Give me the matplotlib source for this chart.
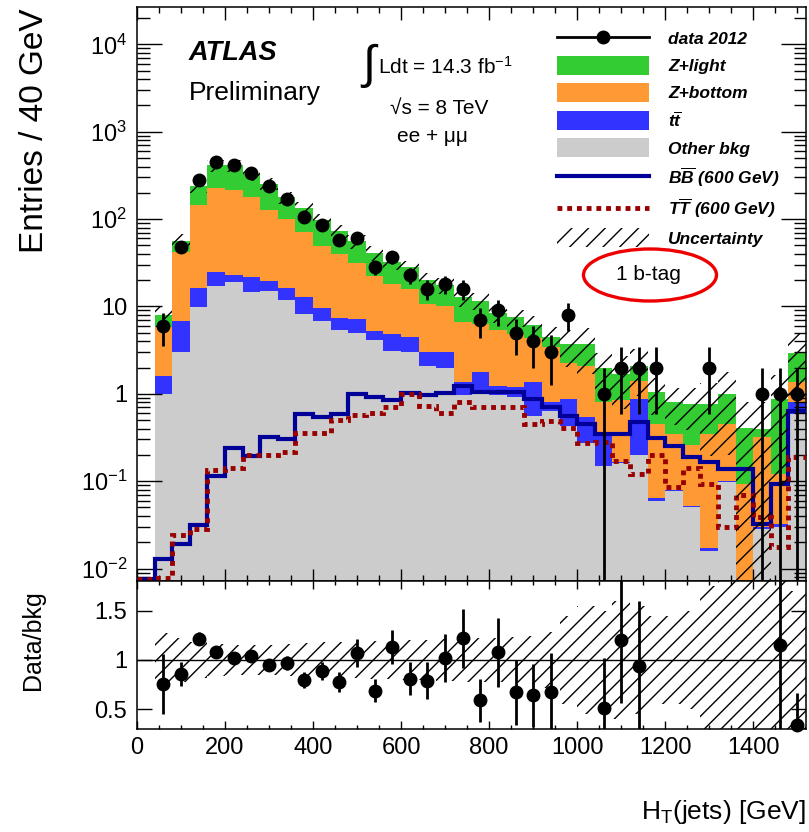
import numpy as np
import matplotlib
matplotlib.use('Agg')
import matplotlib.pyplot as plt
from matplotlib.patches import Patch, Ellipse
from matplotlib.lines import Line2D
from matplotlib.ticker import LogLocator, MultipleLocator, NullFormatter, FuncFormatter

plt.rcParams['font.family'] = ['Liberation Sans', 'DejaVu Sans']
plt.rcParams['mathtext.fontset'] = 'custom'
plt.rcParams['mathtext.rm'] = 'Liberation Sans'
plt.rcParams['mathtext.it'] = 'Liberation Sans:italic'
plt.rcParams['mathtext.bf'] = 'Liberation Sans:bold'
plt.rcParams['mathtext.bfit'] = 'Liberation Sans:italic:bold'
plt.rcParams['hatch.linewidth'] = 1.0

# 40 GeV bins; backgrounds and data start at 40 GeV, signals at 0
bkg_edges = np.arange(40, 1521, 40)
sig_edges = np.arange(0, 1521, 40)
centers = 0.5 * (bkg_edges[:-1] + bkg_edges[1:])

data = np.array([6, 48, 283, 447, 420, 338, 242, 172, 107, 86, 57, 60, 28, 37, 23, 16, 18, 16,
                 7, 9, 5, 4, 3, 8, 0, 1, 2, 2, 2, 0, 0, 2, 0, 0, 1, 1, 1], dtype=float)

other_bkg = np.array([1.0, 3.0, 9.8, 17.3, 18.9, 14.8, 15.2, 12.0, 8.1, 6.8, 5.4, 5.0, 4.1, 3.1,
                      3.0, 2.1, 2.0, 0.96, 1.04, 0.98, 0.93, 0.56, 0.64, 0.43, 0.27, 0.15, 0.16,
                      0.2, 0.06, 0.078, 0.05, 0.016, 0.097, 0.005, 0.028, 0.03, 0.59])
ttbar = np.array([0.58, 3.9, 6.4, 7.3, 4.3, 6.8, 4.2, 4.3, 4.9, 2.7, 1.9, 2.1, 1.2, 1.75, 1.45,
                  0.89, 0.99, 0.40, 0.73, 0.26, 0.26, 0.80, 0.16, 0.45, 0.27, 0.21, 0.005, 0.68,
                  0.005, 0.002, 0.002, 0.001, 0.003, 0.0, 0.002, 0.002, 0.21])
z_bottom = np.array([4.2, 34.8, 127, 200, 192, 156, 108, 84, 58, 40, 33, 24, 17.3, 13.3, 11.4,
                     7.7, 7.2, 5.2, 4.5, 4.1, 3.7, 3.0, 2.6, 1.4, 1.56, 0.44, 0.69, 0.54, 0.39,
                     0.27, 0.21, 0.33, 0.35, 0.089, 0.29, 0.088, 0.55])
z_light = np.array([2.1, 14.3, 97, 189, 197, 147, 128, 77, 63, 47, 33, 25, 18.4, 13.9, 12.1,
                    9.3, 7.5, 6.2, 5.4, 3.0, 2.6, 1.85, 1.1, 1.4, 1.6, 1.16, 0.82, 0.68, 0.59,
                    0.45, 0.51, 0.42, 0.55, 0.31, 0.08, 0.75, 1.55])
rel_unc = np.array([0.27, 0.22, 0.18, 0.16, 0.15, 0.15, 0.15, 0.16, 0.17, 0.18, 0.18, 0.18, 0.19,
                    0.19, 0.2, 0.2, 0.21, 0.22, 0.22, 0.22, 0.23, 0.24, 0.28, 0.45, 0.55, 0.5,
                    0.6, 0.55, 0.45, 0.45, 0.5, 0.75, 0.8, 1.0, 1.0, 0.9, 0.7])

sig_bb = np.array([0.0076, 0.0129, 0.0192, 0.0311, 0.116, 0.241, 0.192, 0.319, 0.305, 0.58, 0.55,
                   0.59, 1.0, 0.92, 0.85, 1.02, 0.98, 1.02, 1.24, 1.06, 1.05, 1.05, 0.88, 0.70,
                   0.56, 0.45, 0.35, 0.35, 0.47, 0.31, 0.256, 0.19, 0.165, 0.138, 0.138, 0.0326,
                   0.093, 0.64])
sig_tt = np.array([0.0076, 0.0078, 0.024, 0.0285, 0.135, 0.14, 0.2, 0.2, 0.215, 0.36, 0.36, 0.5,
                   0.57, 0.6, 0.70, 1.0, 0.73, 0.6, 0.8, 0.70, 0.70, 0.70, 0.45, 0.49, 0.41,
                   0.27, 0.28, 0.17, 0.12, 0.2, 0.086, 0.14, 0.094, 0.03, 0.069, 0.039, 0.0178,
                   0.19])

nan = np.nan
ratio = np.array([0.757, 0.86, 1.217, 1.08, 1.02, 1.04, 0.95, 0.97, 0.80, 0.89, 0.78, 1.07,
                  0.69, 1.13, 0.81, 0.79, 1.02, 1.22, 0.59, 1.08, 0.67, 0.64, 0.67, nan, nan,
                  0.51, 1.20, 0.94, nan, nan, nan, nan, nan, nan, nan, 1.15, 0.34])
ratio_lo = np.array([0.30, 0.12, 0.07, 0.05, 0.05, 0.06, 0.06, 0.07, 0.08, 0.09, 0.10, 0.14,
                     0.12, 0.17, 0.17, 0.19, 0.24, 0.30, 0.22, 0.35, 0.33, 0.32, 0.40, nan, nan,
                     0.51, 0.64, 0.94, nan, nan, nan, nan, nan, nan, nan, 1.15, 0.34])
ratio_hi = np.array([0.30, 0.12, 0.07, 0.05, 0.05, 0.06, 0.06, 0.07, 0.08, 0.09, 0.10, 0.14,
                     0.12, 0.17, 0.17, 0.19, 0.24, 0.30, 0.22, 0.35, 0.33, 0.32, 0.40, nan, nan,
                     0.51, 0.65, 0.66, nan, nan, nan, nan, nan, nan, nan, 1.15, 0.32])

c_green, c_orange, c_blue, c_grey = '#33cc33', '#ff9933', '#3333ff', '#cccccc'
c_bb, c_tt = '#000099', '#990000'

W, H = 809, 832
fig = plt.figure(figsize=(W / 100, H / 100), dpi=100)
ax = fig.add_axes([137 / W, 1 - 581 / H, 669 / W, (581 - 6.7) / H])
rax = fig.add_axes([137 / W, 1 - 729 / H, 669 / W, (729 - 581) / H])

# stacked backgrounds, drawn as cumulative totals from the top down
floor = 1e-4
cum_grey = other_bkg
cum_blue = cum_grey + ttbar
cum_orange = cum_blue + z_bottom
total = cum_orange + z_light
for vals, col in [(total, c_green), (cum_orange, c_orange), (cum_blue, c_blue), (cum_grey, c_grey)]:
    ax.stairs(vals, bkg_edges, baseline=floor, fill=True, color=col, lw=0, zorder=1)

ax.stairs(sig_bb, sig_edges, baseline=None, color=c_bb, lw=3, zorder=3)
ax.stairs(sig_tt, sig_edges, baseline=None, color=c_tt, lw=3.5, ls=(0, (1, 1)), zorder=3)

ax.stairs(total * (1 + rel_unc), bkg_edges, baseline=np.maximum(total * (1 - rel_unc), floor),
          fill=True, facecolor='none', edgecolor='black', hatch='//', lw=0, zorder=4)

m = data > 0
err_hi = np.sqrt(data)
err_lo = np.minimum(np.sqrt(data), data * 0.9999)
ax.errorbar(centers[m], data[m], yerr=[err_lo[m], err_hi[m]], fmt='o', color='black', ms=9,
            elinewidth=2, capsize=0, zorder=5)

ax.set_xlim(0, 1520)
ax.set_yscale('log')
ax.set_ylim(0.0072, 2.7e4)
ax.xaxis.set_major_locator(MultipleLocator(200))
ax.xaxis.set_minor_locator(MultipleLocator(50))
ax.yaxis.set_major_locator(LogLocator(base=10, numticks=20))
ax.yaxis.set_minor_locator(LogLocator(base=10, subs=np.arange(2, 10), numticks=20))
ax.yaxis.set_minor_formatter(NullFormatter())


def log_label(v, pos):
    e = int(round(np.log10(v)))
    if e == 0:
        return '1'
    if e == 1:
        return '10'
    return r'$\mathregular{10^{%d}}$' % e


ax.yaxis.set_major_formatter(FuncFormatter(log_label))
ax.tick_params(which='both', direction='in', top=True, right=True, labelbottom=False,
               labelsize=17, width=1)
ax.tick_params(axis='y', which='major', length=18, pad=7)
ax.tick_params(axis='y', which='minor', length=9)
ax.tick_params(axis='x', which='major', length=9)
ax.tick_params(axis='x', which='minor', length=4.5)

# legend
handles = [
    Line2D([], [], color='black', marker='o', ms=9, lw=2),
    Patch(facecolor=c_green, edgecolor='none'),
    Patch(facecolor=c_orange, edgecolor='none'),
    Patch(facecolor=c_blue, edgecolor='none'),
    Patch(facecolor=c_grey, edgecolor='none'),
    Line2D([], [], color=c_bb, lw=3),
    Line2D([], [], color=c_tt, lw=3.5, ls=(0, (1, 1))),
    Patch(facecolor='white', edgecolor='black', hatch='//', lw=0),
]
labels = ['data 2012', 'Z+light', 'Z+bottom', r'$\mathbfit{t}\overline{\mathbfit{t}}$',
          'Other bkg', r'$\mathbfit{B}\overline{\mathbfit{B}}$ (600 GeV)',
          r'$\mathbfit{T}\overline{\mathbfit{T}}$ (600 GeV)', 'Uncertainty']
ax.legend(handles, labels, loc='upper left', bbox_to_anchor=((557 - 137) / 669, 1 - (29 - 6.7) / 574.3),
          frameon=False, borderpad=0, borderaxespad=0, handlelength=5.3, handleheight=1.3,
          labelspacing=0.47, handletextpad=1.1,
          prop={'size': 12.5, 'weight': 'bold', 'style': 'italic'})

# ratio panel
rax.stairs(1 + rel_unc, bkg_edges, baseline=1 - rel_unc, fill=True, facecolor='none',
           edgecolor='black', hatch='//', lw=0, zorder=2)
rax.axhline(1, color='black', lw=1, zorder=3)
pts = rax.errorbar(centers, ratio, yerr=[ratio_lo, ratio_hi], fmt='o', color='black', ms=9,
                   elinewidth=2, capsize=0, zorder=5)
pts[0].set_clip_on(False)
rax.set_xlim(0, 1520)
rax.set_ylim(0.3, 1.8)
rax.set_yticks([0.5, 1, 1.5])
rax.yaxis.set_major_formatter(FuncFormatter(lambda v, p: f'{v:g}'))
rax.xaxis.set_major_locator(MultipleLocator(200))
rax.xaxis.set_minor_locator(MultipleLocator(50))
rax.tick_params(which='both', direction='in', top=True, right=True, labelsize=17, width=1)
rax.tick_params(axis='y', which='major', length=11, pad=7)
rax.tick_params(axis='x', which='major', length=6, pad=6)
rax.tick_params(axis='x', which='minor', length=3)

for a in (ax, rax):
    for s in a.spines.values():
        s.set_linewidth(1.1)

# labels and annotations
fig.text(35 / W, 1 - 8 / H, 'Entries / 40 GeV', rotation=90, ha='center', va='top', fontsize=24)
fig.text(33 / W, 1 - 590 / H, 'Data/bkg', rotation=90, ha='center', va='top', fontsize=18)
fig.text(806 / W, 1 - 812 / H, r'H$_{\mathregular{T}}$(jets) [GeV]', ha='right', va='center',
         fontsize=19)

fig.text(189 / W, 1 - 53 / H, 'ATLAS', fontsize=19.5, fontweight='bold', style='italic', va='center')
fig.text(189 / W, 1 - 93 / H, 'Preliminary', fontsize=19, va='center')
fig.text(362 / W, 1 - 66 / H, '\u222b', fontsize=34, va='center')
fig.text(378 / W, 1 - 67 / H, r'Ldt = 14.3 fb$^{\mathregular{-1}}$', fontsize=15, va='center')
fig.text(390 / W, 1 - 108 / H, '\u221as = 8 TeV', fontsize=15, va='center')
fig.text(397 / W, 1 - 137 / H, 'ee + \u03bc\u03bc', fontsize=15, va='center')
fig.text(648 / W, 1 - 275 / H, '1 b-tag', fontsize=15, ha='center', va='center')
fig.patches.append(Ellipse((650 / W, 1 - 275 / H), 133 / W, 52 / H, transform=fig.transFigure,
                           fill=False, edgecolor='#ee0000', lw=2.4, figure=fig))

fig.savefig('out.png', dpi=100, facecolor='white')
